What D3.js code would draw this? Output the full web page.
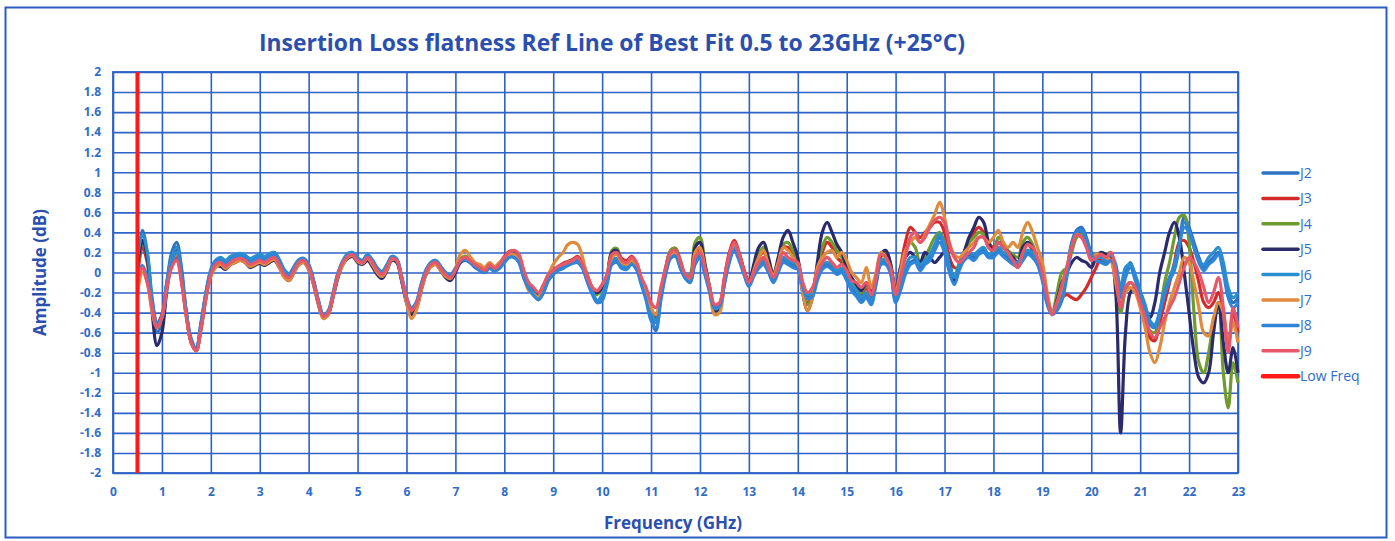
<!DOCTYPE html>
<html><head><meta charset="utf-8">
<script src="https://cdn.jsdelivr.net/npm/d3@7"></script>
<style>
body{margin:0;background:#fff;}
svg{display:block;font-family:"Open Sans","Liberation Sans",sans-serif;}
</style></head>
<body><svg id="chart" width="1395" height="541"></svg>
<script>
const title = "Insertion Loss flatness Ref Line of Best Fit 0.5 to 23GHz (+25°C)";
const xTickValues = d3.range(0, 24, 1);
const yTickValues = [-2,-1.8,-1.6,-1.4,-1.2,-1,-0.8,-0.6,-0.4,-0.2,0,0.2,0.4,0.6,0.8,1,1.2,1.4,1.6,1.8,2];
const freqStart = 0.5, freqStep = 0.1;
const seriesNames = ["J2","J3","J4","J5","J6","J7","J8","J9","Low Freq"];
const seriesColors = ["#2e72c4","#d42a2a","#6e9a2e","#2b2a6a","#2a8fcf","#e08a3c","#2f86d8","#e8566a","#ff1a1a"];

const J2 = [0.10,0.42,0.20,-0.30,-0.60,-0.50,-0.10,0.20,0.30,0.05,
-0.40,-0.68,-0.76,-0.50,-0.20,0.02,0.12,0.14,0.10,0.15,
0.17,0.18,0.17,0.13,0.15,0.17,0.15,0.18,0.20,0.12,
0.02,-0.02,0.05,0.12,0.14,0.08,-0.08,-0.28,-0.42,-0.40,
-0.24,-0.04,0.10,0.18,0.20,0.14,0.12,0.17,0.12,0.04,
0.00,0.06,0.16,0.12,-0.08,-0.28,-0.36,-0.30,-0.12,0.02,
0.10,0.12,0.06,0.00,-0.04,0.04,0.10,0.12,0.10,0.05,
0.02,0.00,0.05,0.02,0.05,0.10,0.16,0.16,0.10,-0.05,
-0.15,-0.22,-0.27,-0.20,-0.08,-0.02,0.03,0.05,0.08,0.10,
0.10,0.05,-0.08,-0.20,-0.30,-0.25,-0.10,0.10,0.12,0.05,
0.05,0.10,0.05,-0.10,-0.25,-0.45,-0.58,-0.25,0.00,0.15,
0.18,0.05,-0.05,-0.10,0.10,0.15,0.00,-0.18,-0.36,-0.34,
-0.10,0.12,0.25,0.15,0.00,-0.12,-0.02,0.05,0.10,0.02,
-0.08,0.02,0.12,0.10,0.08,0.05,-0.12,-0.25,-0.22,-0.05,
0.05,0.08,0.05,0.00,0.02,-0.05,-0.15,-0.20,-0.28,-0.22,
-0.30,-0.10,0.10,0.10,0.00,-0.28,-0.15,0.00,0.10,0.12,
0.05,0.10,0.15,0.25,0.35,0.25,0.05,-0.10,0.05,0.15,
0.18,0.15,0.20,0.22,0.15,0.18,0.22,0.18,0.15,0.10,
0.08,0.15,0.20,0.18,0.10,-0.05,-0.30,-0.40,-0.35,-0.25,
0.00,0.30,0.42,0.45,0.35,0.20,0.15,0.12,0.10,0.15,
0.05,-0.20,0.00,0.10,-0.05,-0.20,-0.35,-0.50,-0.55,-0.40,
-0.20,-0.05,0.05,0.30,0.55,0.45,0.30,0.15,0.05,0.10,
0.15,0.20,0.05,-0.20,-0.30,-0.25];

const J3 = [-0.05,0.25,0.10,-0.30,-0.50,-0.42,-0.12,0.08,0.15,-0.08,
-0.43,-0.70,-0.78,-0.55,-0.24,0.00,0.10,0.12,0.08,0.12,
0.14,0.15,0.13,0.10,0.12,0.14,0.11,0.14,0.16,0.09,
-0.01,-0.04,0.03,0.11,0.13,0.06,-0.09,-0.30,-0.44,-0.41,
-0.23,-0.03,0.11,0.17,0.19,0.13,0.11,0.16,0.11,0.03,
-0.01,0.06,0.15,0.13,-0.04,-0.26,-0.40,-0.33,-0.15,0.01,
0.09,0.11,0.05,-0.01,-0.04,0.03,0.13,0.16,0.13,0.09,
0.06,0.03,0.09,0.05,0.09,0.16,0.21,0.21,0.16,0.00,
-0.12,-0.18,-0.22,-0.14,-0.04,0.02,0.06,0.09,0.11,0.13,
0.16,0.10,-0.03,-0.15,-0.20,-0.14,-0.03,0.20,0.22,0.14,
0.12,0.16,0.10,-0.06,-0.20,-0.38,-0.45,-0.20,0.05,0.22,
0.24,0.12,-0.02,-0.04,0.18,0.24,0.06,-0.16,-0.35,-0.32,
-0.05,0.20,0.32,0.20,0.03,-0.08,0.05,0.15,0.20,0.08,
-0.03,0.08,0.25,0.25,0.20,0.12,-0.15,-0.30,-0.20,0.05,
0.20,0.30,0.25,0.15,0.10,0.00,-0.10,-0.18,-0.22,-0.15,
-0.25,-0.10,0.18,0.20,0.05,-0.20,0.05,0.30,0.45,0.40,
0.35,0.40,0.45,0.50,0.50,0.40,0.15,0.05,0.05,0.20,
0.30,0.40,0.45,0.40,0.30,0.25,0.30,0.28,0.20,0.10,
0.05,0.20,0.28,0.22,0.10,-0.05,-0.25,-0.40,-0.30,-0.25,
-0.22,-0.25,-0.27,-0.22,-0.15,-0.05,0.05,0.15,0.12,0.18,
-0.05,-0.35,-0.15,-0.10,-0.15,-0.30,-0.50,-0.65,-0.68,-0.50,
-0.30,-0.10,0.10,0.30,0.32,0.25,0.10,-0.10,-0.30,-0.35,
-0.30,-0.20,-0.40,-0.75,-0.40,-0.60];

const J4 = [0.00,0.30,0.15,-0.30,-0.55,-0.48,-0.12,0.12,0.20,-0.05,
-0.42,-0.69,-0.77,-0.54,-0.23,0.01,0.10,0.12,0.08,0.12,
0.15,0.15,0.13,0.09,0.11,0.13,0.11,0.14,0.16,0.09,
-0.01,-0.04,0.03,0.10,0.12,0.06,-0.10,-0.30,-0.43,-0.40,
-0.22,-0.02,0.10,0.17,0.18,0.12,0.10,0.15,0.10,0.02,
-0.02,0.05,0.14,0.12,-0.06,-0.27,-0.40,-0.34,-0.16,0.00,
0.08,0.10,0.04,-0.03,-0.06,0.02,0.13,0.16,0.12,0.08,
0.04,0.02,0.06,0.03,0.06,0.14,0.18,0.20,0.14,-0.02,
-0.14,-0.20,-0.24,-0.16,-0.05,0.00,0.05,0.08,0.10,0.12,
0.14,0.07,-0.06,-0.18,-0.22,-0.16,-0.05,0.22,0.24,0.12,
0.08,0.12,0.08,-0.08,-0.22,-0.40,-0.48,-0.22,0.04,0.22,
0.24,0.10,-0.04,-0.02,0.30,0.35,0.10,-0.15,-0.38,-0.36,
-0.08,0.15,0.28,0.16,0.00,-0.12,0.02,0.18,0.25,0.10,
0.00,0.10,0.28,0.30,0.22,0.12,-0.18,-0.32,-0.22,0.05,
0.25,0.35,0.30,0.22,0.15,0.02,-0.08,-0.15,-0.20,-0.12,
-0.22,-0.08,0.15,0.22,0.08,-0.18,0.00,0.20,0.30,0.25,
0.10,0.15,0.25,0.35,0.40,0.30,0.05,-0.05,0.10,0.20,
0.30,0.35,0.40,0.38,0.25,0.22,0.35,0.30,0.22,0.18,
0.15,0.30,0.35,0.28,0.12,-0.05,-0.30,-0.40,-0.20,0.00,
0.05,0.20,0.35,0.38,0.30,0.15,0.18,0.20,0.18,0.20,
-0.05,-0.40,-0.18,-0.10,-0.15,-0.28,-0.45,-0.58,-0.60,-0.40,
-0.10,0.10,0.35,0.55,0.57,0.30,-0.40,-0.90,-1.00,-0.80,
-0.50,-0.30,-1.00,-1.35,-0.90,-1.10];

const J5 = [0.05,0.32,0.15,-0.40,-0.73,-0.60,-0.18,0.10,0.25,-0.05,
-0.42,-0.70,-0.78,-0.56,-0.26,-0.03,0.06,0.06,0.03,0.08,
0.10,0.12,0.10,0.05,0.07,0.09,0.07,0.10,0.12,0.05,
-0.04,-0.08,0.00,0.08,0.10,0.03,-0.12,-0.32,-0.45,-0.42,
-0.24,-0.05,0.08,0.14,0.16,0.10,0.08,0.12,0.06,-0.02,
-0.06,0.02,0.12,0.10,-0.08,-0.30,-0.42,-0.36,-0.18,-0.02,
0.06,0.08,0.02,-0.05,-0.08,0.00,0.10,0.14,0.10,0.06,
0.03,0.00,0.06,0.02,0.06,0.14,0.18,0.20,0.15,0.00,
-0.12,-0.18,-0.22,-0.15,-0.05,0.00,0.04,0.06,0.08,0.10,
0.12,0.05,-0.08,-0.18,-0.20,-0.15,-0.05,0.20,0.22,0.10,
0.08,0.12,0.08,-0.08,-0.25,-0.42,-0.50,-0.22,0.02,0.18,
0.22,0.08,-0.04,-0.08,0.25,0.30,0.08,-0.16,-0.38,-0.36,
-0.10,0.15,0.28,0.18,0.02,-0.12,0.08,0.25,0.30,0.15,
-0.02,0.15,0.35,0.42,0.30,0.15,-0.20,-0.38,-0.25,0.10,
0.40,0.50,0.40,0.28,0.20,0.05,-0.05,-0.12,-0.18,-0.10,
-0.20,-0.05,0.18,0.22,0.08,-0.20,0.05,0.15,0.20,0.15,
0.10,0.20,0.15,0.10,0.15,0.20,0.10,-0.10,0.05,0.20,
0.35,0.45,0.55,0.50,0.30,0.20,0.30,0.25,0.20,0.15,
0.10,0.25,0.30,0.25,0.10,-0.05,-0.28,-0.42,-0.28,-0.10,
0.00,0.10,0.15,0.12,0.10,0.05,0.15,0.20,0.18,0.15,
-0.20,-1.60,-0.60,-0.20,-0.15,-0.25,-0.35,-0.45,-0.30,0.00,
0.20,0.40,0.50,0.35,0.00,-0.40,-0.80,-1.05,-1.10,-1.00,
-0.60,-0.30,-0.70,-1.00,-0.75,-1.00];

const J6 = [0.15,0.38,0.20,-0.25,-0.50,-0.45,-0.10,0.15,0.25,0.00,
-0.40,-0.66,-0.75,-0.50,-0.20,0.03,0.12,0.15,0.12,0.16,
0.18,0.19,0.17,0.14,0.16,0.18,0.16,0.19,0.20,0.13,
0.03,-0.01,0.06,0.13,0.14,0.08,-0.08,-0.28,-0.42,-0.38,
-0.20,0.00,0.12,0.19,0.20,0.15,0.12,0.18,0.13,0.05,
0.01,0.08,0.16,0.14,-0.04,-0.24,-0.35,-0.30,-0.12,0.03,
0.10,0.12,0.06,0.00,-0.02,0.04,0.12,0.14,0.10,0.06,
0.03,0.01,0.06,0.03,0.06,0.12,0.18,0.18,0.12,-0.03,
-0.14,-0.20,-0.25,-0.18,-0.06,0.00,0.04,0.06,0.09,0.11,
0.12,0.06,-0.06,-0.18,-0.28,-0.22,-0.08,0.12,0.14,0.06,
0.06,0.12,0.06,-0.08,-0.22,-0.40,-0.50,-0.22,0.02,0.16,
0.20,0.06,-0.04,-0.08,0.12,0.18,0.02,-0.16,-0.34,-0.32,
-0.08,0.14,0.26,0.16,0.00,-0.10,0.00,0.08,0.12,0.04,
-0.06,0.04,0.15,0.12,0.10,0.08,-0.10,-0.22,-0.18,-0.02,
0.08,0.10,0.08,0.02,0.04,-0.02,-0.12,-0.18,-0.25,-0.20,
-0.28,-0.08,0.12,0.12,0.02,-0.25,-0.10,0.05,0.15,0.15,
0.08,0.12,0.18,0.28,0.38,0.28,0.08,-0.05,0.08,0.18,
0.20,0.18,0.22,0.25,0.18,0.20,0.25,0.20,0.18,0.12,
0.10,0.18,0.22,0.20,0.12,-0.02,-0.28,-0.38,-0.32,-0.22,
0.02,0.28,0.40,0.42,0.32,0.18,0.15,0.15,0.12,0.18,
0.08,-0.15,0.05,0.08,-0.02,-0.18,-0.32,-0.48,-0.52,-0.38,
-0.18,-0.05,0.08,0.28,0.45,0.40,0.25,0.12,0.08,0.15,
0.20,0.25,0.10,-0.15,-0.25,-0.20];

const J7 = [-0.20,0.00,-0.10,-0.40,-0.55,-0.45,-0.15,0.10,0.18,-0.08,
-0.44,-0.70,-0.78,-0.56,-0.26,-0.04,0.05,0.08,0.04,0.08,
0.10,0.12,0.10,0.06,0.08,0.10,0.08,0.11,0.13,0.05,
-0.05,-0.08,0.00,0.08,0.10,0.03,-0.12,-0.32,-0.46,-0.42,
-0.24,-0.04,0.08,0.15,0.17,0.11,0.09,0.14,0.08,0.00,
-0.04,0.03,0.13,0.12,-0.06,-0.30,-0.46,-0.38,-0.18,-0.02,
0.06,0.08,0.02,-0.04,-0.06,0.04,0.18,0.22,0.16,0.10,
0.08,0.05,0.10,0.06,0.10,0.15,0.18,0.18,0.12,-0.05,
-0.18,-0.22,-0.24,-0.16,-0.02,0.08,0.15,0.20,0.28,0.30,
0.28,0.15,-0.05,-0.15,-0.18,-0.12,-0.02,0.15,0.18,0.10,
0.08,0.12,0.08,-0.05,-0.18,-0.35,-0.42,-0.20,0.02,0.18,
0.20,0.08,-0.04,-0.06,0.20,0.25,0.05,-0.20,-0.42,-0.40,
-0.10,0.15,0.28,0.18,0.00,-0.12,0.02,0.15,0.22,0.08,
-0.02,0.10,0.25,0.22,0.15,0.08,-0.20,-0.38,-0.25,0.05,
0.15,0.20,0.22,0.15,0.20,0.12,0.00,-0.05,-0.10,0.05,
-0.15,0.00,0.20,0.15,0.02,-0.20,0.02,0.22,0.30,0.35,
0.30,0.38,0.48,0.58,0.70,0.55,0.30,0.18,0.15,0.20,
0.25,0.30,0.35,0.35,0.30,0.35,0.42,0.30,0.25,0.30,
0.25,0.40,0.50,0.40,0.25,0.10,-0.20,-0.40,-0.30,-0.15,
0.05,0.25,0.38,0.35,0.28,0.15,0.18,0.18,0.15,0.12,
-0.10,-0.30,-0.20,-0.15,-0.20,-0.35,-0.55,-0.80,-0.90,-0.75,
-0.50,-0.30,-0.15,0.00,0.15,0.10,-0.10,-0.35,-0.60,-0.63,
-0.45,-0.30,-0.40,-0.70,-0.50,-0.70];

const J8 = [0.00,0.07,-0.05,-0.30,-0.52,-0.45,-0.12,0.10,0.20,-0.05,
-0.42,-0.68,-0.76,-0.52,-0.22,0.01,0.11,0.13,0.09,0.13,
0.16,0.17,0.15,0.11,0.13,0.15,0.13,0.16,0.18,0.10,
0.00,-0.03,0.04,0.11,0.13,0.07,-0.09,-0.29,-0.43,-0.39,
-0.21,-0.01,0.11,0.17,0.19,0.13,0.11,0.16,0.11,0.03,
-0.01,0.06,0.15,0.13,-0.05,-0.26,-0.37,-0.31,-0.14,0.01,
0.09,0.11,0.05,-0.01,-0.04,0.03,0.11,0.13,0.10,0.06,
0.02,0.00,0.04,0.01,0.04,0.10,0.15,0.15,0.10,-0.06,
-0.16,-0.23,-0.27,-0.20,-0.08,-0.02,0.02,0.04,0.07,0.09,
0.10,0.04,-0.10,-0.22,-0.30,-0.28,-0.12,0.08,0.10,0.04,
0.03,0.08,0.03,-0.12,-0.28,-0.48,-0.55,-0.28,-0.02,0.14,
0.16,0.04,-0.06,-0.10,0.08,0.14,-0.02,-0.20,-0.36,-0.34,
-0.12,0.10,0.22,0.12,-0.02,-0.14,-0.04,0.04,0.08,0.00,
-0.10,0.00,0.10,0.08,0.05,0.03,-0.14,-0.26,-0.24,-0.08,
0.03,0.06,0.03,-0.02,0.00,-0.08,-0.18,-0.24,-0.30,-0.25,
-0.32,-0.12,0.08,0.08,-0.02,-0.30,-0.18,-0.02,0.08,0.10,
0.02,0.08,0.12,0.22,0.30,0.20,0.00,-0.12,0.02,0.12,
0.15,0.12,0.18,0.20,0.15,0.15,0.20,0.16,0.12,0.08,
0.06,0.12,0.18,0.15,0.08,-0.08,-0.32,-0.42,-0.38,-0.28,
-0.05,0.25,0.40,0.42,0.32,0.18,0.12,0.10,0.08,0.12,
0.05,-0.25,-0.05,0.05,-0.08,-0.22,-0.38,-0.52,-0.55,-0.42,
-0.22,-0.08,0.02,0.25,0.50,0.42,0.25,0.10,0.02,0.08,
0.12,0.18,0.00,-0.25,-0.35,-0.30];

const J9 = [-0.10,0.05,-0.10,-0.35,-0.55,-0.45,-0.15,0.05,0.12,-0.10,
-0.45,-0.70,-0.78,-0.55,-0.25,-0.02,0.08,0.10,0.06,0.10,
0.13,0.14,0.12,0.08,0.10,0.12,0.10,0.13,0.15,0.08,
-0.02,-0.05,0.02,0.10,0.12,0.05,-0.10,-0.30,-0.44,-0.40,
-0.22,-0.02,0.10,0.16,0.18,0.12,0.10,0.15,0.10,0.02,
-0.02,0.05,0.14,0.12,-0.05,-0.25,-0.38,-0.32,-0.15,0.00,
0.08,0.10,0.04,-0.02,-0.05,0.02,0.12,0.15,0.12,0.08,
0.05,0.02,0.08,0.04,0.08,0.15,0.20,0.22,0.18,0.02,
-0.10,-0.15,-0.20,-0.12,-0.02,0.02,0.06,0.08,0.10,0.12,
0.15,0.08,-0.05,-0.15,-0.18,-0.12,-0.02,0.18,0.20,0.12,
0.10,0.15,0.10,-0.05,-0.15,-0.30,-0.35,-0.15,0.05,0.20,
0.22,0.10,-0.02,-0.05,0.15,0.20,0.05,-0.15,-0.32,-0.30,
-0.05,0.18,0.30,0.18,0.02,-0.10,0.00,0.10,0.15,0.05,
-0.05,0.05,0.20,0.15,0.12,0.10,-0.10,-0.20,-0.15,0.00,
0.10,0.15,0.10,0.05,0.08,0.02,-0.08,-0.10,-0.15,-0.10,
-0.22,-0.05,0.18,0.15,0.05,-0.22,-0.05,0.15,0.35,0.40,
0.30,0.35,0.45,0.52,0.55,0.50,0.28,0.15,0.10,0.15,
0.20,0.25,0.35,0.35,0.25,0.22,0.30,0.25,0.20,0.12,
0.05,0.20,0.28,0.25,0.15,0.00,-0.25,-0.42,-0.30,-0.12,
0.05,0.25,0.38,0.35,0.25,0.12,0.15,0.18,0.15,0.20,
0.00,-0.35,-0.15,-0.10,-0.15,-0.30,-0.45,-0.60,-0.65,-0.55,
-0.45,-0.35,-0.25,-0.10,0.05,0.15,0.10,0.00,-0.15,-0.30,
-0.20,-0.05,-0.35,-0.80,-0.35,-0.55];

const lowFreqX = [0.5, 0.5];
const lowFreqY = [-2, 2];

const svg = d3.select("#chart");
const m = {left:113, right:1238, top:72, bottom:473};
const x = d3.scaleLinear().domain([0,23]).range([m.left, m.right]);
const y = d3.scaleLinear().domain([-2,2]).range([m.bottom, m.top]);
const blue = "#2d62c8", textBlue = "#2f6cc8", titleBlue = "#2b4fae";

svg.append("rect").attr("x",5.5).attr("y",7.5).attr("width",1381).attr("height",530)
  .attr("fill","#fff").attr("stroke","#2a5cc4").attr("stroke-width",2);

svg.append("text").attr("x",612).attr("y",51).attr("text-anchor","middle")
  .attr("fill",titleBlue).attr("font-size",22.5).attr("font-weight","bold")
  .attr("textLength",706).attr("lengthAdjust","spacingAndGlyphs").text(title);

const gx = svg.append("g").attr("transform",`translate(0,${m.bottom})`)
  .call(d3.axisBottom(x).tickValues(xTickValues).tickSize(-(m.bottom-m.top)).tickPadding(14).tickFormat(d3.format("d")));
const gy = svg.append("g").attr("transform",`translate(${m.left},0)`)
  .call(d3.axisLeft(y).tickValues(yTickValues).tickSize(-(m.right-m.left)).tickPadding(12)
    .tickFormat(d => String(Math.round(d*10)/10)));
[gx,gy].forEach(g=>{
  g.select(".domain").remove();
  g.selectAll(".tick line").attr("stroke",blue).attr("stroke-width",1.6);
  g.selectAll(".tick text").attr("fill",textBlue).attr("font-size",12).attr("font-weight","bold")
   .attr("font-family","'Open Sans','Liberation Sans',sans-serif");
});
svg.append("rect").attr("x",m.left).attr("y",m.top).attr("width",m.right-m.left).attr("height",m.bottom-m.top)
  .attr("fill","none").attr("stroke",blue).attr("stroke-width",1.8);

svg.append("text").attr("transform",`translate(46,${(m.top+m.bottom)/2}) rotate(-90)`)
  .attr("text-anchor","middle").attr("fill",titleBlue).attr("font-size",17).attr("font-weight","bold").text("Amplitude (dB)");
svg.append("text").attr("x",673).attr("y",529).attr("text-anchor","middle")
  .attr("fill",titleBlue).attr("font-size",17).attr("font-weight","bold").text("Frequency (GHz)");

const allSeries = [J2,J3,J4,J5,J6,J7,J8,J9];
const line = d3.line().x(d=>x(d[0])).y(d=>y(d[1])).curve(d3.curveCatmullRom.alpha(0.5));
const plot = svg.append("g");
allSeries.forEach((s,i)=>{
  const pts = s.map((v,k)=>[+(freqStart + k*freqStep).toFixed(2), v]);
  plot.append("path").datum(pts).attr("d",line).attr("fill","none")
    .attr("stroke",seriesColors[i]).attr("stroke-width",3.2).attr("stroke-linejoin","round");
});
plot.append("path").datum(lowFreqX.map((f,k)=>[f,lowFreqY[k]])).attr("d",d3.line().x(d=>x(d[0])).y(d=>y(d[1])))
  .attr("stroke",seriesColors[8]).attr("stroke-width",4).attr("fill","none");

const lg = svg.append("g");
seriesNames.forEach((n,i)=>{
  const yy = 173 + i*25.4;
  lg.append("line").attr("x1",1263).attr("x2",1298).attr("y1",yy).attr("y2",yy)
    .attr("stroke",seriesColors[i]).attr("stroke-width", i===8?4.5:3.5).attr("stroke-linecap","round");
  lg.append("text").attr("x",1300).attr("y",yy+5).attr("fill",textBlue).attr("font-size",14).text(n);
});
</script></body></html>
